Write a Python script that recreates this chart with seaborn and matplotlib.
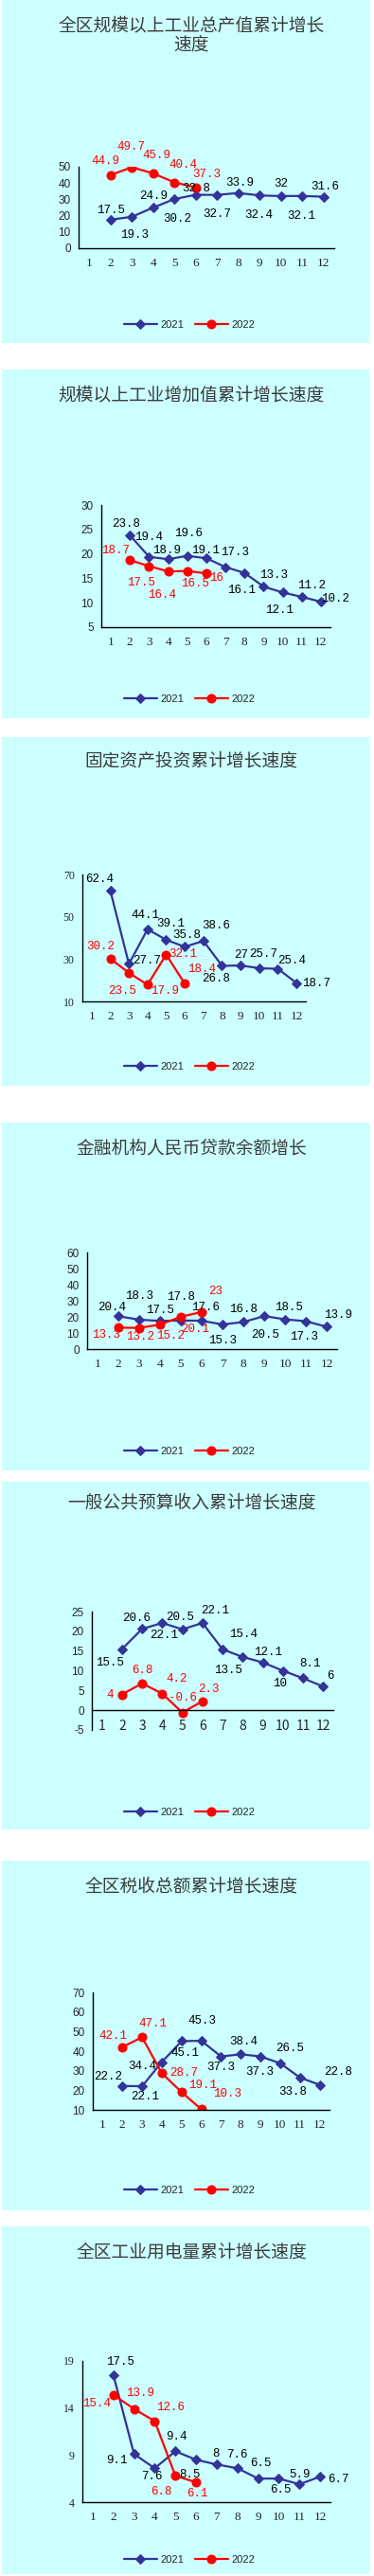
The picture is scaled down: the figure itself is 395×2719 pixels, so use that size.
"""
plot.py
Siete paneles de crecimiento acumulado 2021 / 2022 por mes.
"""
import numpy as np
import pandas as pd
import matplotlib
matplotlib.use("Agg")
import matplotlib.pyplot as plt
import seaborn as sns
from matplotlib.patches import Rectangle

# ---- datos ----
month_labels = [str(m) for m in range(1, 13)]
months_2021 = [2, 3, 4, 5, 6, 7, 8, 9, 10, 11, 12]
months_2022 = [2, 3, 4, 5, 6]

titles = [
    "全区规模以上工业总产值累计增长\n速度",
    "规模以上工业增加值累计增长速度",
    "固定资产投资累计增长速度",
    "金融机构人民币贷款余额增长",
    "一般公共预算收入累计增长速度",
    "全区税收总额累计增长速度",
    "全区工业用电量累计增长速度",
]

zcz_2021 = [17.5, 19.3, 24.9, 30.2, 32.8, 32.7, 33.9, 32.4, 32, 32.1, 31.6]
zcz_2022 = [44.9, 49.7, 45.9, 40.4, 37.3]
zjz_2021 = [23.8, 19.4, 18.9, 19.6, 19.1, 17.3, 16.1, 13.3, 12.1, 11.2, 10.2]
zjz_2022 = [18.7, 17.5, 16.4, 16.5, 16]
gdzc_2021 = [62.4, 27.7, 44.1, 39.1, 35.8, 38.6, 26.8, 27, 25.7, 25.4, 18.7]
gdzc_2022 = [30.2, 23.5, 17.9, 32.1, 18.4]
dk_2021 = [20.4, 18.3, 17.5, 17.8, 17.6, 15.3, 16.8, 20.5, 18.5, 17.3, 13.9]
dk_2022 = [13.3, 13.2, 15.2, 20.1, 23]
ys_2021 = [15.5, 20.6, 22.1, 20.5, 22.1, 15.4, 13.5, 12.1, 10, 8.1, 6]
ys_2022 = [4, 6.8, 4.2, -0.6, 2.3]
ss_2021 = [22.2, 22.1, 34.4, 45.1, 45.3, 37.3, 38.4, 37.3, 33.8, 26.5, 22.8]
ss_2022 = [42.1, 47.1, 28.7, 19.1, 10.3]
yd_2021 = [17.5, 9.1, 7.6, 9.4, 8.5, 8, 7.6, 6.5, 6.5, 5.9, 6.7]
yd_2022 = [15.4, 13.9, 12.6, 6.8, 6.1]

series_2021 = [zcz_2021, zjz_2021, gdzc_2021, dk_2021, ys_2021, ss_2021, yd_2021]
series_2022 = [zcz_2022, zjz_2022, gdzc_2022, dk_2022, ys_2022, ss_2022, yd_2022]

y_limits = [(0, 50), (5, 30), (10, 70), (0, 60), (-5, 25), (10, 70), (4, 19)]
y_ticks = [
    [0, 10, 20, 30, 40, 50],
    [5, 10, 15, 20, 25, 30],
    [10, 30, 50, 70],
    [0, 10, 20, 30, 40, 50, 60],
    [-5, 0, 5, 10, 15, 20, 25],
    [10, 20, 30, 40, 50, 60, 70],
    [4, 9, 14, 19],
]

# ---- layout (pixeles) ----
W, H = 395, 2719
BG = "#CCFFFF"
NAVY = "#333399"
RED = "#FF0000"

panel_box = [(0, 362), (390, 758), (778, 1146), (1185, 1552),
             (1564, 1931), (1964, 2333), (2350, 2717)]
axes_box = [(83, 353, 176, 262), (107, 349, 533, 662), (87, 323, 923, 1057),
            (92, 356, 1322, 1424), (97, 352, 1701, 1826), (98, 348, 2103, 2227),
            (87, 349, 2492, 2641)]
title_y = [37.5, 417, 803, 1212, 1586, 1991, 2377]
legend_y = [343, 738, 1126, 1532, 1913, 2312, 2702]
ytick_font = ["Liberation Sans", "Liberation Sans", "Liberation Serif", "Liberation Sans",
              "Liberation Sans", "Liberation Sans", "Liberation Serif"]

# desplazamiento de etiquetas (px, arriba positivo)
off_2021 = [
    [(0, 10), (3, -19), (0, 12), (3, -21), (0, 7), (0, -20), (1, 11), (-1, -21), (0, 13), (-1, -21), (1, 11)],
    [(-4, 12), (0, 21), (-1, 9), (1, 24), (-1, 8), (10, 16), (-3, -18), (11, 12), (-3, -19), (10, 12), (15, 3)],
    [(-11, 12), (19, 3), (-2, 15), (5, 17), (2, 12), (13, 16), (-6, -14), (0, 11), (4, 15), (15, 9), (21, 0)],
    [(-7, 9), (0, 25), (0, 11), (0, 25), (4, 14), (0, -17), (0, 13), (1, -20), (4, 13), (-2, -16), (12, 12)],
    [(-13, -14), (-6, 11), (2, -13), (-2, 13), (13, 13), (22, 16), (-15, -14), (5, 11), (-3, -13), (7, 15), (8, 11)],
    [(-15, 10), (3, -11), (-21, -4), (4, -13), (1, 21), (0, -11), (3, 13), (-1, -16), (13, -30), (-11, 31), (20, 14)],
    [(7, 14), (-18, -7), (-3, -9), (1, 15), (-7, -16), (-1, 11), (0, 14), (3, 16), (2, -12), (0, 10), (19, -3)],
]
off_2022 = [
    [(-5, 15), (-1, 22), (4, 19), (9, 19), (11, 14)],
    [(-15, 10), (-8, -17), (-6, -25), (8, -13), (11, -5)],
    [(-10, 13), (-7, -19), (18, -7), (18, 1), (18, 15)],
    [(-13, -8), (1, -9), (11, -12), (15, -13), (15, 22)],
    [(-13, -1), (0, 14), (15, 16), (0, 16), (7, 13)],
    [(-10, 12), (11, 14), (23, 0), (22, 7), (28, 16)],
    [(-18, -9), (7, 17), (17, 15), (-15, -17), (1, -12)],
]

sns.set_style("white")
plt.rcParams["font.family"] = ["Noto Sans CJK SC", "DejaVu Sans"]
plt.rcParams["axes.unicode_minus"] = False

fig = plt.figure(figsize=(W / 100, H / 100), dpi=100)
fig.patch.set_facecolor("white")

for i in range(7):
    top, bot = panel_box[i]
    fig.patches.append(Rectangle((2 / W, 1 - bot / H), 388 / W, (bot - top) / H,
                                 transform=fig.transFigure, facecolor=BG,
                                 edgecolor="none", zorder=-5))
    fig.text(202 / W, 1 - title_y[i] / H, titles[i], ha="center", va="center",
             fontsize=13.5, color="#3c3c3c", linespacing=1.05,
             family=["Noto Sans CJK SC", "DejaVu Sans"])

    l, r, t, b = axes_box[i]
    ax = fig.add_axes([l / W, 1 - b / H, (r - l) / W, (b - t) / H])
    ax.patch.set_alpha(0)

    df21 = pd.DataFrame({"mes": months_2021, "valor": series_2021[i]})
    df22 = pd.DataFrame({"mes": months_2022, "valor": series_2022[i]})
    sns.lineplot(data=df21, x="mes", y="valor", ax=ax, color=NAVY, marker="D",
                 markersize=4.8, markeredgecolor=NAVY, linewidth=1.6, label="2021")
    sns.lineplot(data=df22, x="mes", y="valor", ax=ax, color=RED, marker="o",
                 markersize=6.5, markeredgecolor=RED, linewidth=1.6, label="2022")

    for x, y, (dx, dy) in zip(months_2021, series_2021[i], off_2021[i]):
        ax.annotate(f"{y:g}", (x, y), xytext=(dx, dy), textcoords="offset pixels",
                    ha="center", va="center", fontsize=9, family="Liberation Mono",
                    color="black", annotation_clip=False)
    for x, y, (dx, dy) in zip(months_2022, series_2022[i], off_2022[i]):
        ax.annotate(f"{y:g}", (x, y), xytext=(dx, dy), textcoords="offset pixels",
                    ha="center", va="center", fontsize=9, family="Liberation Mono",
                    color=RED, annotation_clip=False)

    ax.set_xlim(0.5, 12.5)
    ax.set_ylim(*y_limits[i])
    ax.set_yticks(y_ticks[i])
    ax.set_yticklabels([f"{v}" for v in y_ticks[i]], family=ytick_font[i], fontsize=8.5)
    ax.set_xticks(range(1, 13))
    ax.set_xticklabels(month_labels, family="Liberation Serif", fontsize=9.5)
    ax.set_xticks(np.arange(1.5, 13, 1), minor=True)
    ax.tick_params(axis="x", which="major", length=0, pad=7)
    ax.tick_params(axis="x", which="minor", direction="in", length=3.5, width=1, color="black")
    ax.tick_params(axis="y", direction="in", length=3.5, width=1, color="black", pad=6)
    ax.set_xlabel("")
    ax.set_ylabel("")
    for s in ["top", "right"]:
        ax.spines[s].set_visible(False)
    for s in ["left", "bottom"]:
        ax.spines[s].set_color("black")
        ax.spines[s].set_linewidth(1)
    if y_limits[i][0] < 0:
        ax.spines["bottom"].set_position(("data", 0))

    handles, labels = ax.get_legend_handles_labels()
    ax.get_legend().remove()
    fig.legend(handles, labels, loc="center", bbox_to_anchor=(200 / W, 1 - legend_y[i] / H),
               ncol=2, frameon=False, handlelength=3.2, handletextpad=0.3,
               columnspacing=1.0, prop={"family": "Liberation Sans", "size": 8})

fig.savefig("out.png", dpi=100)
plt.close()
